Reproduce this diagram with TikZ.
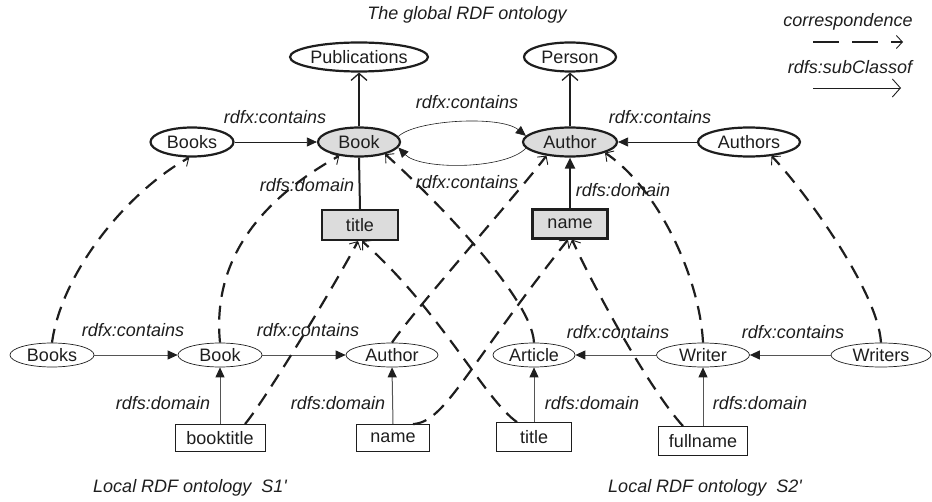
\documentclass[tikz,border=0pt]{standalone}
\usepackage{fontspec}
\setmainfont{Liberation Sans}
\usetikzlibrary{arrows.meta,shapes.geometric}
\definecolor{gfill}{HTML}{DCDCDC}
\definecolor{ink}{HTML}{1E1E1E}
\definecolor{lgray}{HTML}{555555}
\begin{document}
\begin{tikzpicture}[x=1bp,y=-1bp,
  every node/.style={font=\fontsize{18bp}{21bp}\selectfont, text=ink},
  gell/.style={ellipse, draw=ink, line width=2.2bp, fill=white, inner sep=0pt, minimum height=29bp},
  gsel/.style={gell, fill=gfill},
  lell/.style={ellipse, draw=ink, line width=0.7bp, fill=white, inner sep=0pt, minimum height=24bp},
  gbox/.style={rectangle, draw=ink, line width=2.2bp, fill=gfill, inner sep=0pt},
  lbox/.style={rectangle, draw=ink, line width=0.8bp, fill=white, inner sep=0pt},
  lab/.style={font=\fontsize{18bp}{21bp}\selectfont\itshape, inner sep=0pt},
  corr/.style={draw=ink, line width=2.2bp, dash pattern=on 14bp off 9bp, -{Straight Barb[length=6bp,width=13bp,line width=0.9bp]}},
  sub/.style={draw=ink, line width=1.3bp, -{Straight Barb[length=7bp,width=16bp]}},
  cont/.style={draw=ink, line width=0.8bp, -{Triangle[length=10bp,width=9bp]}},
  lcont/.style={draw=lgray, line width=1bp, -{Triangle[length=10bp,width=9bp,color=ink]}},
]
\useasboundingbox (0,0) rectangle (932,502);

% ---- global ontology ----
\node[gell, minimum width=138bp] (Pub) at (359,57) {Publications};
\node[gell, minimum width=92bp] (Person) at (570,57) {Person};
\node[gell, minimum width=83bp] (BooksG) at (192,142) {Books};
\node[gsel, minimum width=82bp] (BookG) at (359,142) {Book};
\node[gsel, minimum width=94bp] (AuthorG) at (570,142) {Author};
\node[gell, minimum width=102bp] (AuthorsG) at (749,142) {Authors};
\node[gbox, minimum width=76bp, minimum height=30bp] (titleG) at (360,225) {title};
\node[gbox, minimum width=75bp, minimum height=29bp] (nameG) at (570,224) {name};

% ---- local ontologies ----
\node[lell, minimum width=84bp] (BooksL) at (52,355) {Books};
\node[lell, minimum width=84bp] (BookL) at (220,355) {Book};
\node[lell, minimum width=92bp] (AuthorL) at (392,355) {Author};
\node[lell, minimum width=82bp] (Article) at (534,355) {Article};
\node[lell, minimum width=93bp] (Writer) at (703,355) {Writer};
\node[lell, minimum width=100bp] (Writers) at (881,355) {Writers};
\node[lbox, minimum width=90bp, minimum height=27bp] (booktitle) at (220,438) {booktitle};
\node[lbox, minimum width=73bp, minimum height=27bp] (nameL) at (393,438) {name};
\node[lbox, minimum width=75bp, minimum height=29bp] (titleL) at (534,437) {title};
\node[lbox, minimum width=89bp, minimum height=29bp] (fullname) at (703,441) {fullname};

% ---- labels ----
\node[lab] (t0) at (467,15) {The global RDF ontology};
\node[lab] (c1) at (190,488) {Local RDF ontology\ \ S1\textquotesingle};
\node[lab] (c2) at (705,488) {Local RDF ontology\ \ S2\textquotesingle};
\node[lab] (l1) at (275,117) {rdfx:contains};
\node[lab] (l2) at (467,102) {rdfx:contains};
\node[lab] (l3) at (660,117) {rdfx:contains};
\node[lab] (l4) at (467,182) {rdfx:contains};
\node[lab] (l5) at (307,185) {rdfs:domain};
\node[lab] (l6) at (623,190) {rdfs:domain};
\node[lab] (l7) at (133,330) {rdfx:contains};
\node[lab] (l8) at (308,330) {rdfx:contains};
\node[lab] (l9) at (618,332) {rdfx:contains};
\node[lab] (l10) at (793,332) {rdfx:contains};
\node[lab] (l11) at (163,403) {rdfs:domain};
\node[lab] (l12) at (338,403) {rdfs:domain};
\node[lab] (l13) at (592,403) {rdfs:domain};
\node[lab] (l14) at (760,403) {rdfs:domain};

% ---- legend ----
\node[lab] (lgc) at (848,22) {correspondence};
\node[lab] (lgs) at (850,67) {rdfs:subClassof};
\coordinate (cs) at (813,42); \coordinate (ce) at (903,42);
\coordinate (ss) at (813,88); \coordinate (se) at (901,88);
\draw[corr, line width=2.6bp, dash pattern=on 26bp off 13bp] (cs) -- (ce);
\draw[sub, line width=0.9bp, -{Straight Barb[length=8bp,width=18bp]}] (ss) -- (se);

% ---- global edges ----
\draw[sub] (BookG.north) -- (Pub.south);
\draw[sub] (AuthorG.north) -- (Person.south);
\draw[cont] (BooksG.east) -- (BookG.west);
\draw[cont] (AuthorsG.west) -- (AuthorG.east);
\draw[draw=ink, line width=2bp] (titleG.north) -- (BookG.south);
\draw[draw=ink, line width=2bp, -{Triangle[length=11bp,width=10bp]}] (nameG.north) -- (AuthorG.south);
\draw[cont, line width=0.6bp] (BookG.8) .. controls (415,120) and (500,115) .. (AuthorG.172);
\draw[cont, line width=0.6bp] (AuthorG.188) .. controls (505,170) and (420,170) .. (BookG.-8);

% ---- local edges ----
\draw[lcont] (BooksL.east) -- (BookL.west);
\draw[lcont] (BookL.east) -- (AuthorL.west);
\draw[lcont] (Writer.west) -- (Article.east);
\draw[lcont] (Writers.west) -- (Writer.east);
\draw[lcont] (booktitle.north) -- (BookL.south);
\draw[lcont] (nameL.north) -- (AuthorL.south);
\draw[lcont] (titleL.north) -- (Article.south);
\draw[lcont] (fullname.north) -- (Writer.south);

% ---- correspondences ----
\draw[corr] (BooksL.north) .. controls (62,270) and (130,190) .. (BooksG.-100);
\draw[corr] (BookL.north) .. controls (212,260) and (260,200) .. (BookG.-145);
\draw[corr] ([xshift=25bp]booktitle.north) .. controls (265,400) and (335,285) .. ([xshift=-2bp]titleG.south);
\draw[corr] (AuthorL.north) .. controls (410,315) and (525,185) .. (AuthorG.-150);
\draw[corr] ([xshift=20bp]nameL.north) .. controls (445,422) and (465,370) .. ([xshift=-2bp]nameG.south);
\draw[corr] (Article.north) .. controls (532,295) and (420,185) .. (BookG.-25);
\draw[corr] ([xshift=-17bp]titleL.north) .. controls (485,400) and (440,310) .. ([xshift=2bp]titleG.south);
\draw[corr] ([xshift=-20bp]fullname.north) .. controls (650,390) and (595,290) .. ([xshift=2bp]nameG.south);
\draw[corr] (Writer.north) .. controls (700,280) and (660,190) .. (AuthorG.-17);
\draw[corr] (Writers.north) .. controls (878,290) and (800,185) .. (AuthorsG.-32);
\end{tikzpicture}
\end{document}
